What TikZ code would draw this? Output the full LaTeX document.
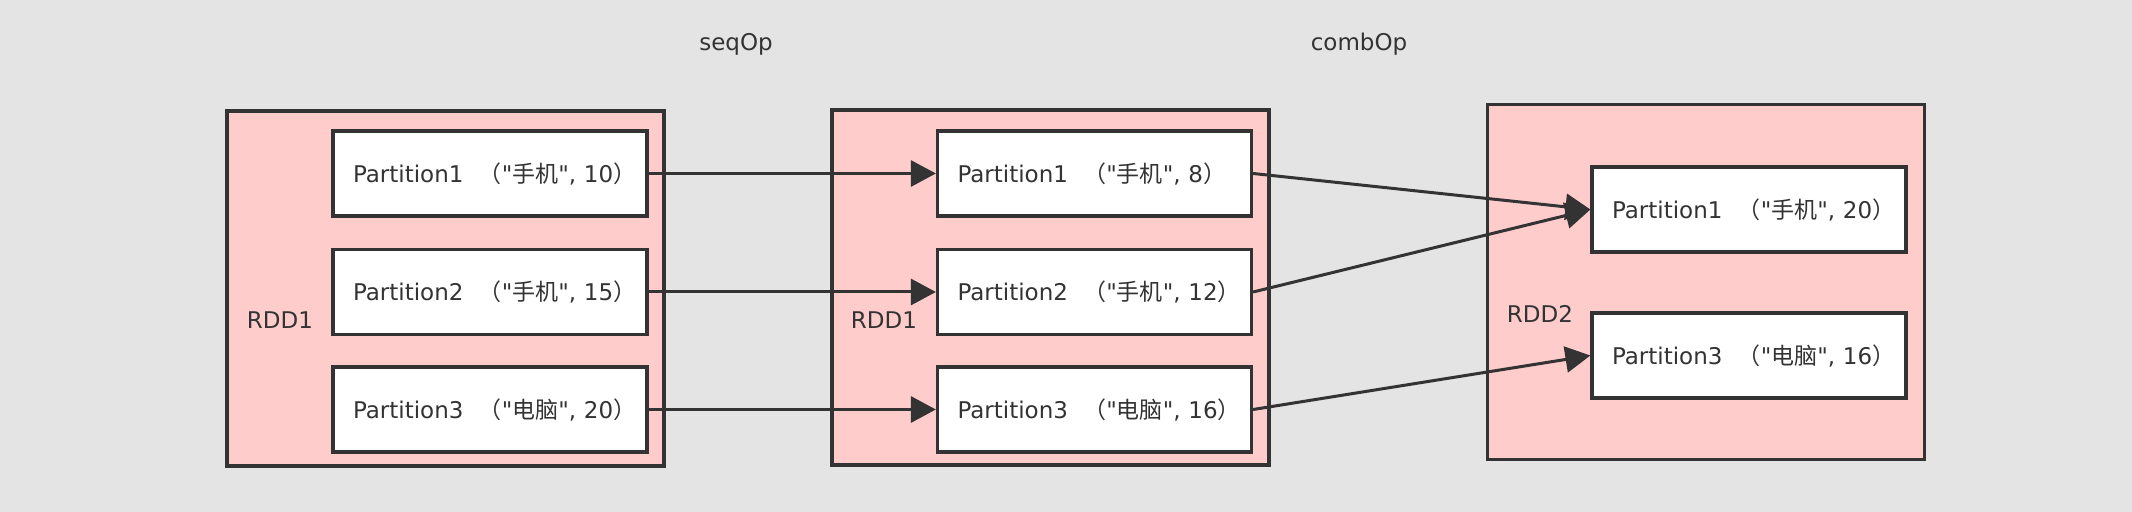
\documentclass[tikz,border=0pt]{standalone}
\usepackage{fontspec}
\setmainfont{DejaVu Sans}[Ligatures=TeXOff]
\newfontfamily\cjk{Noto Sans CJK SC}
\usetikzlibrary{arrows.meta}
\newlength{\du}
\setlength{\du}{0.5pt}
\definecolor{bgcolor}{RGB}{228,228,228}
\definecolor{rddcolor}{RGB}{255,204,204}
\definecolor{dialinecolor}{RGB}{51,51,51}
% partition text: number, key, value
\newcommand{\parttext}[3]{\mbox{Partition#1\ \ {\cjk （}"{\cjk #2}", #3{\cjk ）}}}

\begin{document}
\begin{tikzpicture}[
  rdd/.style={draw=dialinecolor, fill=rddcolor, line width=1.6pt,
    minimum width=437\du, minimum height=355\du, inner sep=0pt},
  part/.style={draw=dialinecolor, fill=white, line width=1.6pt,
    text width=274\du, inner xsep=20\du, inner ysep=0pt,
    minimum height=85\du, align=left, text=dialinecolor,
    font=\fontsize{11.5}{14}\selectfont},
  lbl/.style={text=dialinecolor, font=\fontsize{11.5}{14}\selectfont},
  flow/.style={draw=dialinecolor, line width=1.5pt,
    -{Triangle[length=12.5pt,width=13pt]}}
]
\pgftransformxscale{1.000000}
\pgftransformyscale{-1.000000}
\fill[bgcolor] (0\du,0\du) rectangle (2132\du,512\du);
\useasboundingbox (0\du,0\du) rectangle (2132\du,512\du);
% operation labels
\node[lbl] (seqop) at (736\du,44\du){seqOp};
\node[lbl] (combop) at (1359\du,44\du){combOp};
% RDD1 before seqOp
\node[rdd] (rdda) at (445.5\du,288.5\du){};
\node[lbl] (rddalabel) at (280\du,320\du){RDD1};
\node[part] (pa1) at (490\du,173.5\du){\parttext{1}{手机}{10}};
\node[part] (pa2) at (490\du,292\du){\parttext{2}{手机}{15}};
\node[part] (pa3) at (490\du,409.5\du){\parttext{3}{电脑}{20}};
% RDD1 after seqOp
\node[rdd] (rddb) at (1050.5\du,287.5\du){};
\node[lbl] (rddblabel) at (884\du,320\du){RDD1};
\node[part] (pb1) at (1094.5\du,173.5\du){\parttext{1}{手机}{8}};
\node[part] (pb2) at (1094.5\du,292\du){\parttext{2}{手机}{12}};
\node[part] (pb3) at (1094.5\du,409.5\du){\parttext{3}{电脑}{16}};
% RDD2 after combOp
\node[rdd] (rddc) at (1706\du,282\du){};
\node[lbl] (rddclabel) at (1540\du,314\du){RDD2};
\node[part] (pc1) at (1749\du,209.5\du){\parttext{1}{手机}{20}};
\node[part] (pc3) at (1749\du,355.5\du){\parttext{3}{电脑}{16}};
% seqOp arrows
\draw[flow] (pa1.east)--(pb1.west);
\draw[flow] (pa2.east)--(pb2.west);
\draw[flow] (pa3.east)--(pb3.west);
% combOp arrows
\draw[flow] (pb1.east)--(pc1.west);
\draw[flow] (pb2.east)--(pc1.west);
\draw[flow] (pb3.east)--(pc3.west);
\end{tikzpicture}
\end{document}
